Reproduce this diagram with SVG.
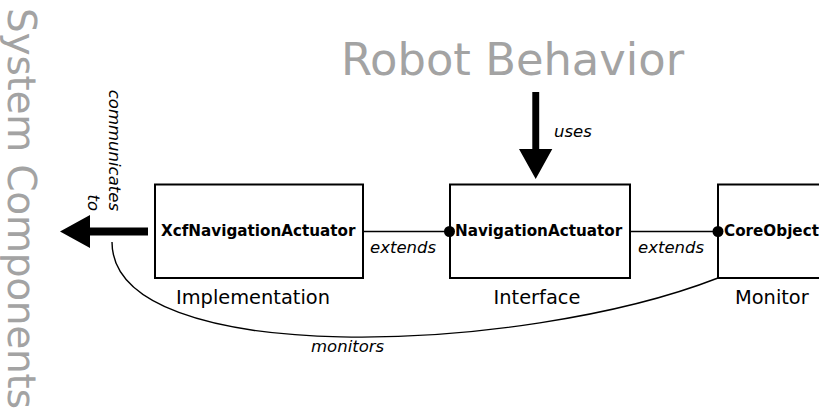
<svg xmlns="http://www.w3.org/2000/svg" width="819" height="412" viewBox="0 0 819 412">
  <style>
    text { font-family: "DejaVu Sans", "Liberation Sans", sans-serif; }
    .region { fill: #a3a3a3; }
    .box { fill: #ffffff; stroke: #000000; stroke-width: 2; }
    .name { font-weight: bold; font-size: 15.2px; fill: #000000; }
    .role { font-size: 19.4px; fill: #000000; }
    .rel { font-style: italic; font-size: 16.5px; fill: #000000; }
    .link { fill: none; stroke: #000000; stroke-width: 1.4; }
    .big { fill: #000000; stroke: none; }
    .joint { fill: #000000; }
  </style>

  <!-- region titles -->
  <text class="region" x="341" y="75" font-size="44.8">Robot Behavior</text>
  <text class="region" font-size="39" textLength="401" lengthAdjust="spacing" transform="translate(8,8) rotate(90)">System Components</text>

  <!-- nodes -->
  <g id="xcf-navigation-actuator">
    <rect class="box" x="155" y="184.5" width="208" height="93.5"/>
    <text class="name" x="161" y="236">XcfNavigationActuator</text>
    <text class="role" x="176" y="304">Implementation</text>
  </g>
  <g id="navigation-actuator">
    <rect class="box" x="450" y="184.5" width="180" height="93.5"/>
    <text class="name" x="455" y="236">NavigationActuator</text>
    <text class="role" x="537" y="304" text-anchor="middle">Interface</text>
  </g>
  <g id="core-object">
    <rect class="box" x="718" y="184.5" width="180" height="93.5"/>
    <text class="name" x="724" y="236">CoreObject</text>
    <text class="role" x="735" y="304">Monitor</text>
  </g>

  <!-- connectors -->
  <g id="connectors">
    <!-- extends: Xcf -> NavigationActuator -->
    <line class="link" x1="363" y1="231.5" x2="450" y2="231.5"/>
    <circle class="joint" cx="449.5" cy="231.5" r="5.5"/>
    <text class="rel" x="370" y="253">extends</text>
    <!-- extends: NavigationActuator -> CoreObject -->
    <line class="link" x1="630" y1="231.5" x2="718" y2="231.5"/>
    <circle class="joint" cx="718" cy="231.5" r="5.5"/>
    <text class="rel" x="638" y="253">extends</text>
    <!-- uses: Robot Behavior -> NavigationActuator -->
    <polygon class="big" points="532.3,92 539.2,92 539.2,149 552.3,149 535.7,179 519,149 532.3,149"/>
    <text class="rel" x="554" y="137">uses</text>
    <!-- communicates to: Xcf -> System Components -->
    <polygon class="big" points="148,227.5 148,235.5 90,235.5 90,248 60,231.5 90,215 90,227.5"/>
    <text class="rel" text-anchor="end" transform="translate(109,211) rotate(90)">communicates<tspan x="0" y="21">to</tspan></text>
    <!-- monitors: CoreObject -> Xcf -->
    <path class="link" d="M112,242 C112,370 520,355 718,278"/>
    <text class="rel" x="311" y="352">monitors</text>
  </g>
</svg>
